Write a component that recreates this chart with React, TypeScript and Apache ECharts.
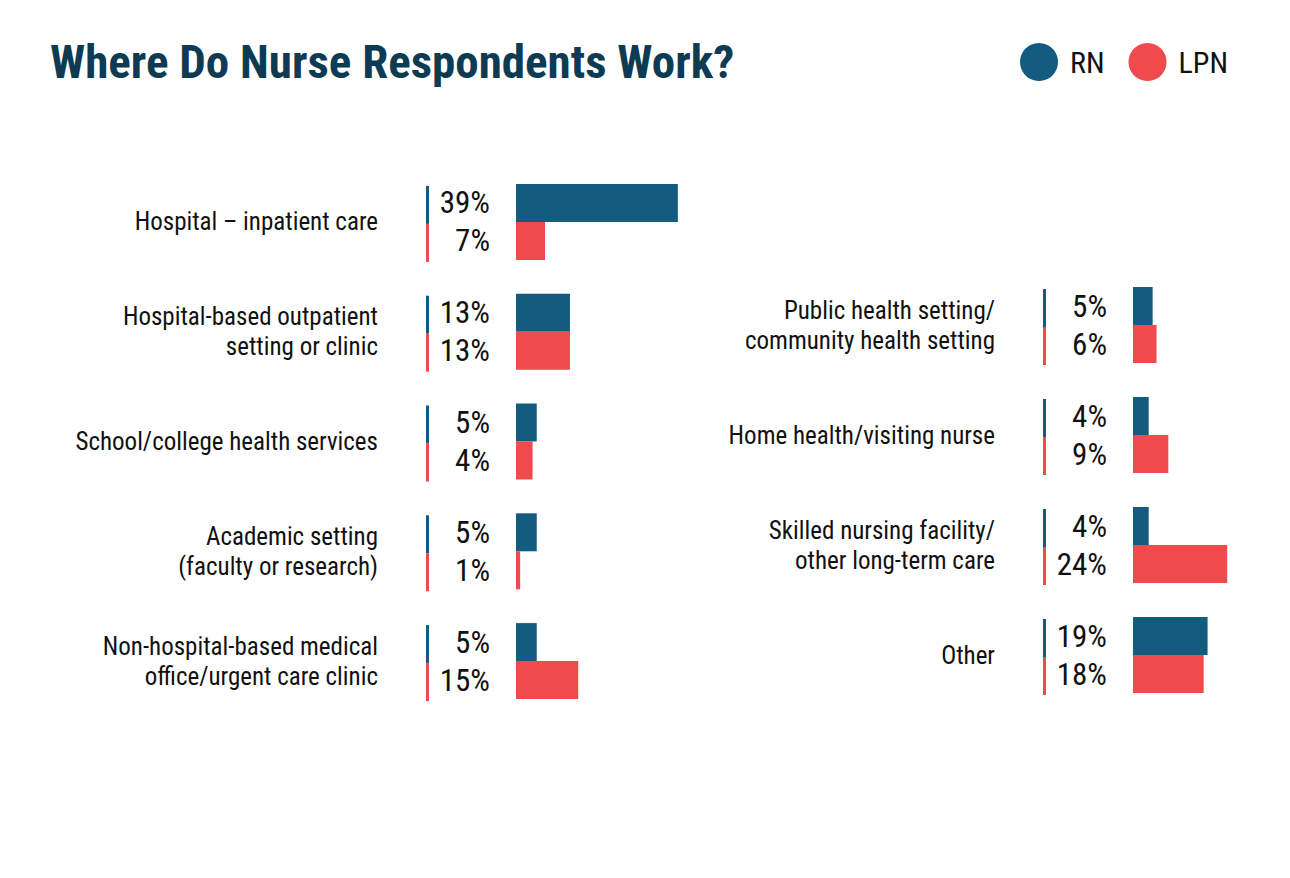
import React, { useEffect, useRef } from "react";
import * as echarts from "echarts";

const leftCategories = [
  "Hospital – inpatient care",
  "Hospital-based outpatient\nsetting or clinic",
  "School/college health services",
  "Academic setting\n(faculty or research)",
  "Non-hospital-based medical\noffice/urgent care clinic",
];
const leftRN = [39, 13, 5, 5, 5];
const leftLPN = [7, 13, 4, 1, 15];

const rightCategories = [
  "Public health setting/\ncommunity health setting",
  "Home health/visiting nurse",
  "Skilled nursing facility/\nother long-term care",
  "Other",
];
const rightRN = [5, 4, 4, 19];
const rightLPN = [6, 9, 24, 18];

const BLUE = "#135c80";
const RED = "#ef4a4c";
const FONT = "'Roboto Condensed', 'Liberation Sans Narrow', Roboto, sans-serif";

export default function App() {
  const ref = useRef<HTMLDivElement>(null);
  useEffect(() => {
    document.body.style.margin = "0";
    const chart = echarts.init(ref.current!, null, { renderer: "svg" });
    const BAR = 38;
    const markers = (cats: string[]) => ({
      type: "custom",
      silent: true,
      data: cats.map((_, i) => [0, i]),
      encode: { x: 0, y: 1 },
      renderItem: (params: any, api: any) => {
        const c = api.coord([0, api.value(1)]);
        const x = c[0] - 90;
        return {
          type: "group",
          children: [
            { type: "rect", shape: { x, y: c[1] - BAR + 2, width: 3, height: BAR }, style: { fill: BLUE } },
            { type: "rect", shape: { x, y: c[1] + 2, width: 3, height: BAR }, style: { fill: RED } },
          ],
        };
      },
    });
    const barLabel = {
      show: true,
      position: "left",
      distance: 26,
      formatter: "{c}%",
      fontFamily: FONT,
      fontSize: 31,
      color: "#111",
    };
    const catAxis = (cats: string[], gi: number) => ({
      type: "category",
      gridIndex: gi,
      data: cats,
      inverse: true,
      axisLine: { show: false },
      axisTick: { show: false },
      axisLabel: {
        margin: 138,
        fontFamily: FONT,
        fontSize: 25,
        lineHeight: 30,
        color: "#111",
        align: "right",
      },
    });
    const valAxis = (gi: number) => ({
      type: "value",
      gridIndex: gi,
      min: 0,
      max: 40,
      show: false,
    });
    chart.setOption({
      animation: false,
      backgroundColor: "#ffffff",
      title: {
        text: "Where Do Nurse Respondents Work?",
        left: 45,
        top: 33,
        textStyle: { fontFamily: FONT, fontWeight: "bold", fontSize: 47, color: "#0e3b53" },
      },
      legend: {
        top: 38,
        left: 1015,
        icon: "circle",
        itemWidth: 38,
        itemHeight: 38,
        itemGap: 24,
        textStyle: { fontFamily: FONT, fontSize: 30, color: "#111", padding: [0, 0, 0, 7] },
        data: ["RN", "LPN"],
      },
      grid: [
        { left: 516, top: 167, width: 166, height: 549 },
        { left: 1133, top: 270, width: 166, height: 440 },
      ],
      xAxis: [valAxis(0), valAxis(1)],
      yAxis: [catAxis(leftCategories, 0), catAxis(rightCategories, 1)],
      series: [
        { type: "bar", name: "RN", xAxisIndex: 0, yAxisIndex: 0, data: leftRN, barWidth: BAR, barGap: "0%", itemStyle: { color: BLUE }, label: barLabel },
        { type: "bar", name: "LPN", xAxisIndex: 0, yAxisIndex: 0, data: leftLPN, barWidth: BAR, barGap: "0%", itemStyle: { color: RED }, label: barLabel },
        { type: "bar", name: "RN", xAxisIndex: 1, yAxisIndex: 1, data: rightRN, barWidth: BAR, barGap: "0%", itemStyle: { color: BLUE }, label: barLabel },
        { type: "bar", name: "LPN", xAxisIndex: 1, yAxisIndex: 1, data: rightLPN, barWidth: BAR, barGap: "0%", itemStyle: { color: RED }, label: barLabel },
        { ...markers(leftCategories), xAxisIndex: 0, yAxisIndex: 0 },
        { ...markers(rightCategories), xAxisIndex: 1, yAxisIndex: 1 },
      ],
    });
    return () => chart.dispose();
  }, []);
  return <div ref={ref} style={{ width: 1290, height: 878 }} />;
}
